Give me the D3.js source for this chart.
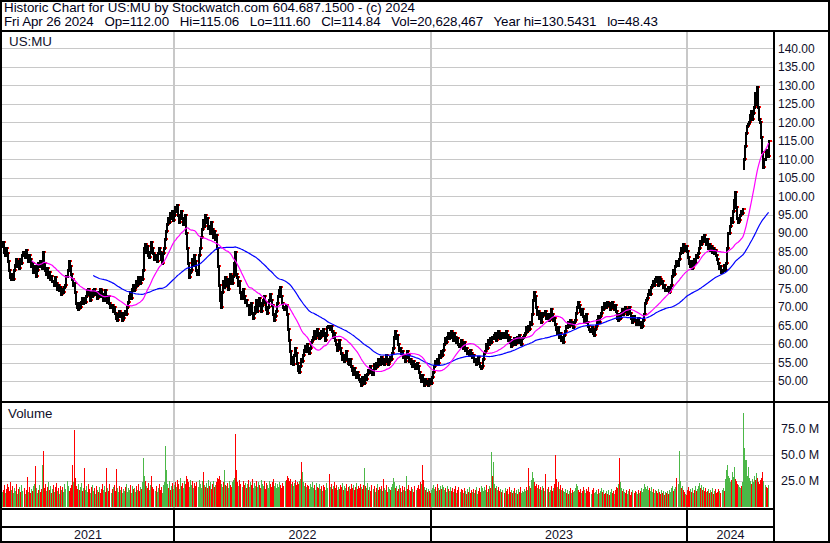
<!DOCTYPE html>
<html><head><meta charset="utf-8">
<script src="https://cdn.jsdelivr.net/npm/d3@7"></script>
<style>html,body{margin:0;padding:0;background:#fff;} svg{display:block;} text{font-family:"Liberation Sans",Arial,sans-serif;}</style>
</head><body><svg id="c" width="830" height="543"></svg>
<script>
const headerLines = [
  "Historic Chart for US:MU by Stockwatch.com 604.687.1500 - (c) 2024",
  "Fri Apr 26 2024   Op=112.00   Hi=115.06   Lo=111.60   Cl=114.84   Vol=20,628,467   Year hi=130.5431   lo=48.43"
];
const symbol = "US:MU";
const volumeTitle = "Volume";
const yearLabels = ["2021","2022","2023","2024"];
const yearStarts = [0,169,420,670];
const priceTicks = [50,55,60,65,70,75,80,85,90,95,100,105,110,115,120,125,130,135,140];
const volTicks = [25,50,75];
const maShort = 30, maLong = 90;
// daily closes (trading days)
const closes = [
86.5,87.5,85,84,86,84.5,82.5,80,78,77.5, 79,77.5,80,81.5,83,81,82.5,80.5,83,82,
84,85,83.5,85.5,84,82.5,84,83,81,82, 79.5,80.5,81,78.5,80,82,81,82.5,81.5,80.5,
85,82,80,79,80.5,78,79.5,77.5,78.5,77, 77,76,78,76.5,75,76,74.5,75.5,73.5,75,
74,75.5,76,78.5,80,82.5,81,79,77.5,76, 76.5,74,71,70,69.5,71,70,71.5,72.5,71,
72.5,71.5,73,74.5,75,73.5,72,74,73,74.5, 75,73.5,74,72.5,74,73,75,74.5,73,72,
73.5,74.5,72,71.5,73,71,70,70.5,69,70, 68.5,67,66.5,68,69,67.5,68.5,66.5,67,68.5,
69,68,70,71.5,73,74,72.5,75,76,74.5, 75.5,77,76,78,77,76.5,78,77.5,80,86,
87,85,86.5,84,83.5,85,87.5,86,84.5,83, 84,82.5,84.5,86,85,83,82,84.5,86,88.5,
90.5,92.5,94,93,95.5,94,96,93.5,95,97, 96,97.5,95,93,94.5,96,94,92.5,93.5,95,
90,86,82,78,79.5,80,83,81.5,84,82.5, 80,79,84,86,89,91,93.5,92,95,93,
94,91.5,92,90,93,91,89,90.5,88.5,89.5, 86,81,76,72,70,74,77,75.5,78,76,
77.5,75,76.5,79,78,76.5,78.5,82,85,79, 78,76,77,74,72.5,75,73,71.5,72,70.5,
70.5,68,69.5,71,68.5,67,68.5,70,72,69, 70.5,72.5,71,69,70.5,72,73,71.5,69.5,68.5,
70,72,73.5,72,70.5,68,66.5,67.5,69,71, 73,74.5,75.5,73,71,70,69.5,70.5,68,64,
61,58,55,56.5,54.5,57,59,57.5,55,53, 52.5,54,56,55.5,57,58.5,59.5,58,60,59,
57.5,59,60.5,61,62,63.5,61.5,62.5,64,63, 61.5,62,63.5,62.5,64,63,61,62.5,64.5,65,
64,65,63.5,62,63,61,60,58.5,59.5,61, 59,57.5,56,57,55.5,56.5,58,56,55,54.5,
56,54,53,52,53.5,52,51,52.5,51.5,50.5, 50,49,51,50.5,49.5,51.5,50.5,52,53,52.5,
54,53,52,54.5,53.5,55,54,56,55,54.5, 56.5,55,56,54.5,55.5,57,56,54.5,55.5,56.5,
56,57.5,59,62,63.5,61.5,62.5,60,58.5,59, 57.5,58,56.5,57,55.5,56.5,58,57,55.5,56,
55,54,55.5,54.5,53.5,55,54,52.5,51,50, 51.5,50,49,50.5,49.5,50,49,50.5,50,49.5,
51,52.5,54,55.5,54.5,56,55,57,56.5,58, 57,58.5,60,61.5,60.5,62,63,61.5,62.5,63.5,
62,61,63,62,60.5,61.5,60,59.5,61,60, 59,60.5,58.5,59,57.5,58,57,58.5,57.5,56.5,
57,55.5,56,54.5,55,56.5,55,54,53.5,54, 56,57.5,58,60,59,61,60,61.5,60.5,62,
61.5,62.5,63,61,62,63.5,62.5,61.5,63,62, 63,62,63.5,62.5,61,62,60.5,59.5,61,60,
61.5,60,61,62,60.5,62.5,61,60,61.5,62, 62.5,63,64.5,63.5,65,64,66,65.5,68,72,
74,73,70,68,69,67,68.5,66,67.5,68.5, 68,69,67,68,66.5,67,69.5,68,66.5,67,
65.5,64,63,64.5,62,63,61,62,60.5,62.5, 63.5,65,64.5,66,65,66.5,65.5,66,64.5,66,
66.5,68.5,70,71.5,70.5,69,68,69.5,67.5,66, 67,68,66,65,64,63.5,64.5,63,62.5,64,
65,66.5,67.5,66,67.5,68.5,70,69.5,71,70.5, 70,71.5,70.5,71,69.5,70.5,71.5,70,69.5,70.5,
69,67,66.5,68,67,68.5,69.5,68,69,70, 69.5,68,69,70,68.5,67,66,67.5,66.5,65.5,
66.5,67,65.5,66,64.5,65,66.5,68,71,72, 72.5,73.5,74.5,73.5,75.5,76,77,76,77.5,78,
77,76,78,77.5,76.5,77,75.5,76,74.5,75, 74.5,75.5,74,75,76,78.5,80,79,81,82.5,
81.5,83,84.5,86,85,87,86,85.5,86.5,85.3, 83.5,82,81,82.5,80.5,81.5,83,82,84,83.5,
84.5,86,88,87,89,88,89.5,88.5,87,88.5, 86,87,85.5,86.5,85,86,84.5,85.5,84,83,
82,80.5,81,79.5,80,81.5,80,82,86,90, 90,92,94,93,96,99,101,97,94,93,
93.5,95,96,95.5,96.5,110,113.5,117,119,119.5, 120,122,123,121,122.5,124,128,125,129.5,124,
121,120,116,112,108,110,112.5,111.5,111,114.84
];
// opening prices on gap days [dayIndex, open]
const gapOpens = [[725,107.5]];
// daily volume, millions of shares
const volumesM = [
18,14,16,21,13,17,22,19,15,24, 16,20,13,18,15,22,12,17,19,14,
21,15,18,12,16,29,14,19,13,17, 15,20,22,39,18,13,16,21,14,17,
40,53,18,22,15,19,24,16,20,13, 17,21,14,19,23,15,18,12,20,16,
19,14,22,17,25,20,15,18,21,40, 24,73,28,20,17,22,16,19,23,15,
18,37,16,20,14,22,17,13,19,21, 15,18,12,20,16,14,19,13,17,22,
16,20,14,37,18,15,22,13,17,19, 21,15,36,18,14,20,16,19,13,17,
15,19,22,14,18,16,21,13,20,17, 18,14,20,16,22,15,19,17,24,47,
30,25,20,18,23,16,21,30,19,17, 15,20,14,18,22,16,19,13,21,24,
58,35,22,18,25,16,20,23,17,21, 24,19,26,22,17,28,20,23,18,25,
22,30,27,24,19,26,21,25,18,23, 20,24,19,26,22,18,25,33,21,19,
23,18,26,20,24,17,22,25,19,21, 24,28,27,30,26,22,19,24,35,21,
20,23,18,25,21,19,24,26,28,70, 35,24,20,26,22,19,25,21,23,18,
22,26,19,24,21,27,18,23,20,25, 19,24,21,18,26,22,20,25,17,23,
21,18,25,22,19,24,27,20,23,18, 22,19,24,21,18,23,20,25,26,30,
28,25,27,22,24,20,23,26,21,24, 22,25,27,43,33,24,20,23,19,21,
20,17,22,19,24,18,21,16,23,19, 18,22,17,20,15,21,19,16,23,18,
31,19,22,17,20,24,18,21,16,19, 17,21,19,23,16,20,18,22,15,19,
20,17,22,18,21,16,19,23,17,20, 18,22,19,17,21,37,20,18,23,16,
19,15,21,17,20,14,18,22,16,19, 17,20,15,27,18,16,21,14,19,17,
16,19,22,28,24,18,20,15,17,21, 18,14,20,16,19,15,30,17,21,16,
15,19,17,14,20,16,18,21,17,24, 22,40,26,19,16,18,14,17,15,13,
16,18,21,17,19,15,22,18,16,20, 17,21,19,16,18,14,20,17,15,19,
15,18,14,17,20,13,16,19,14,17, 16,13,18,15,12,17,14,19,13,16,
14,17,13,16,19,12,15,18,14,20, 18,15,19,16,21,14,17,20,18,52,
30,43,22,18,20,16,19,15,17,14, 16,13,18,15,17,12,19,14,16,13,
15,18,13,16,12,17,14,19,13,15, 14,17,15,19,16,37,20,18,26,33,
28,24,20,22,18,21,17,19,16,20, 18,15,31,17,19,14,16,20,15,18,
22,50,27,19,24,17,21,16,18,15, 14,17,13,16,12,15,18,13,16,14,
15,18,22,20,16,14,17,13,15,19, 16,13,17,15,19,14,12,16,18,13,
14,16,12,17,13,15,18,14,16,12, 13,15,12,16,11,14,17,13,15,12,
16,19,18,22,47,24,18,15,17,14, 13,16,12,15,17,11,14,16,13,15,
14,12,16,13,15,18,14,17,22,19, 17,20,16,18,15,19,14,17,13,16,
15,13,17,14,12,16,13,15,11,14, 13,15,12,16,14,18,20,15,17,19,
28,22,53,25,18,20,16,14,12,11, 16,19,15,17,14,18,13,16,20,15,
17,20,23,18,21,16,19,15,18,14, 15,17,13,16,14,18,12,15,17,13,
14,17,15,13,16,18,15,27,35,40, 30,28,24,26,33,29,38,27,25,22,
21,19,18,20,24,90,56,45,45,30, 38,28,25,22,27,24,30,26,32,28,
24,22,26,28,33,25,21,19,18,20.6
];

const svg = d3.select("#c");
const W = 830, H = 543;
const FONT = '"Liberation Sans", Arial, sans-serif';
const x = d3.scaleLinear().domain([0, 750]).range([1.5, 769.1]);
const yP = d3.scaleLinear().domain([50, 140]).range([381, 48.3]);
const yV = d3.scaleLinear().domain([0, 75]).range([507, 428.3]);
const gridC = "#c8c8c8";

svg.append("rect").attr("width", W).attr("height", H).attr("fill", "#fff");

// gridlines
const grid = svg.append("g").attr("shape-rendering", "crispEdges").attr("stroke", gridC);
grid.selectAll("line.hp").data(priceTicks).join("line").attr("class","hp")
  .attr("x1", 2).attr("x2", 773)
  .attr("y1", d => Math.round(yP(d)) + 0.5).attr("y2", d => Math.round(yP(d)) + 0.5);
grid.selectAll("line.hv").data(volTicks).join("line").attr("class","hv")
  .attr("x1", 2).attr("x2", 773)
  .attr("y1", d => Math.round(yV(d)) + 0.5).attr("y2", d => Math.round(yV(d)) + 0.5);
const yb = yearStarts.slice(1);
grid.selectAll("rect.vp").data(yb).join("rect").attr("class","vp")
  .attr("x", d => Math.round(x(d)) - 1).attr("width", 2).attr("y", 32).attr("height", 370)
  .attr("fill", gridC).attr("stroke", "none");
grid.selectAll("rect.vv").data(yb).join("rect").attr("class","vv")
  .attr("x", d => Math.round(x(d)) - 1).attr("width", 2).attr("y", 403).attr("height", 106)
  .attr("fill", gridC).attr("stroke", "none");

// price bars
const gapMap = new Map(gapOpens);
const opens = closes.map((c, i) => gapMap.has(i) ? gapMap.get(i) : (i > 0 ? closes[i - 1] : c));
const gB = svg.append("g").attr("shape-rendering", "crispEdges");
closes.forEach((c, i) => {
  const o = opens[i];
  const xi = Math.floor(x(i));
  const yt = Math.round(yP(Math.max(o, c))), ybm = Math.round(yP(Math.min(o, c)));
  gB.append("rect").attr("x", xi).attr("y", yt - 1).attr("width", 2)
    .attr("height", Math.max(3, ybm - yt + 3)).attr("fill", "#000");
  gB.append("rect").attr("x", xi + 2).attr("y", Math.round(yP(c)) - 1).attr("width", 2)
    .attr("height", 2).attr("fill", "#ff0000");
});

// moving averages
function sma(n) {
  const out = [];
  let s = 0;
  closes.forEach((c, i) => {
    s += c; if (i >= n) s -= closes[i - n];
    if (i >= n - 1) out.push([i, s / n]);
  });
  return out;
}
const line = d3.line().x(d => x(d[0]) + 0.5).y(d => yP(d[1]));
svg.append("path").datum(sma(maLong)).attr("d", line).attr("fill", "none")
  .attr("stroke", "#0000ff").attr("stroke-width", 1.2);
svg.append("path").datum(sma(maShort)).attr("d", line).attr("fill", "none")
  .attr("stroke", "#ff00ff").attr("stroke-width", 1.2);

// volume bars
const gV = svg.append("g").attr("shape-rendering", "crispEdges");
gV.selectAll("rect").data(volumesM).join("rect")
  .attr("x", (d, i) => Math.floor(x(i)))
  .attr("width", 1)
  .attr("y", d => Math.round(yV(d)))
  .attr("height", d => 507 - Math.round(yV(d)))
  .attr("fill", (d, i) => (i === 0 || closes[i] >= closes[i - 1]) ? "#4cb848" : "#ff0000");

// axes labels
const axP = d3.axisRight(yP).tickValues(priceTicks).tickSize(0).tickPadding(3)
  .tickFormat(d3.format(".2f"));
svg.append("g").attr("transform", "translate(775,0)").call(axP)
  .attr("font-family", FONT).attr("font-size", 12).attr("color", "#10102a")
  .call(g => g.select(".domain").remove());
const axV = d3.axisRight(yV).tickValues(volTicks).tickSize(0).tickPadding(6)
  .tickFormat(d => d.toFixed(1) + " M");
svg.append("g").attr("transform", "translate(775,0)").call(axV)
  .attr("font-family", FONT).attr("font-size", 12.5).attr("color", "#10102a")
  .call(g => g.select(".domain").remove());

// header text
const hdrLen = [411, 654];
svg.selectAll("text.hdr").data(headerLines).join("text").attr("class", "hdr")
  .attr("x", 4).attr("y", (d, i) => 12 + i * 14)
  .attr("font-size", 13.33).attr("fill", "#000018")
  .attr("textLength", (d, i) => hdrLen[i]).attr("lengthAdjust", "spacing")
  .style("white-space", "pre").attr("xml:space", "preserve").text(d => d);
svg.append("text").attr("x", 9).attr("y", 46).attr("font-size", 13.33).attr("fill", "#10102a").text(symbol);
svg.append("text").attr("x", 8).attr("y", 418).attr("font-size", 13.33).attr("fill", "#10102a").text(volumeTitle);

// year labels
const bounds = yearStarts.map(s => s === 0 ? 2 : Math.round(x(s))).concat([774]);
svg.selectAll("text.yr").data(yearLabels).join("text").attr("class", "yr")
  .attr("x", (d, i) => (bounds[i] + bounds[i + 1]) / 2).attr("y", 539)
  .attr("text-anchor", "middle").attr("font-size", 12.5).attr("fill", "#10102a").text(d => d);

// borders
const gL = svg.append("g").attr("shape-rendering", "crispEdges").attr("fill", "#000");
gL.append("rect").attr("x", 0).attr("y", 30).attr("width", W).attr("height", 2);
gL.append("rect").attr("x", 0).attr("y", 401).attr("width", W).attr("height", 2);
gL.append("rect").attr("x", 773).attr("y", 30).attr("width", 2).attr("height", H - 30);
gL.append("rect").attr("x", 0).attr("y", 508).attr("width", 774).attr("height", 2);
gL.append("rect").attr("x", 0).attr("y", 526).attr("width", 774).attr("height", 2);
gL.selectAll("rect.yd").data(yb).join("rect").attr("class", "yd")
  .attr("x", d => Math.round(x(d)) - 1).attr("width", 2).attr("y", 509).attr("height", 32);
gL.append("rect").attr("x", 0).attr("y", 0).attr("width", W).attr("height", 2);
gL.append("rect").attr("x", 0).attr("y", H - 2).attr("width", W).attr("height", 2);
gL.append("rect").attr("x", 0).attr("y", 0).attr("width", 2).attr("height", H);
gL.append("rect").attr("x", W - 2).attr("y", 0).attr("width", 2).attr("height", H);
</script></body></html>
